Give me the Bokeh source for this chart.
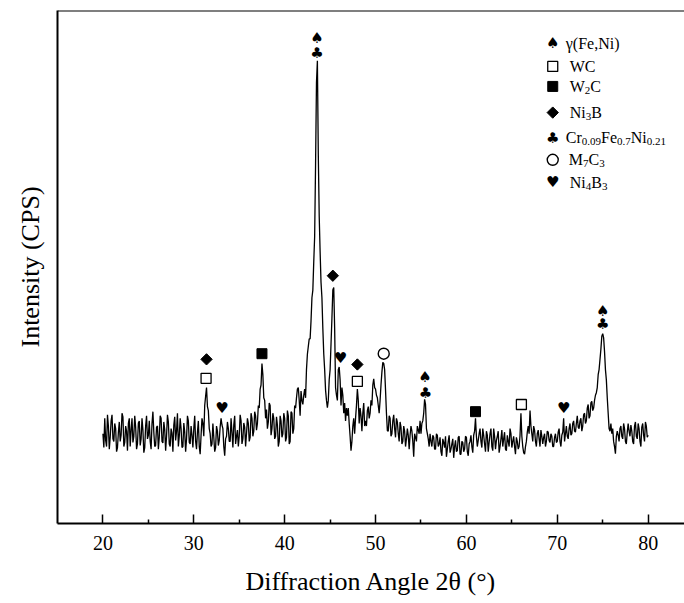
import numpy as np
from bokeh.plotting import figure
from bokeh.models import Range1d, FixedTicker, Span, Label
from bokeh.core.properties import value
from bokeh.embed import file_html
from bokeh.resources import INLINE

# ---------------- data ----------------
angle_start, angle_end = 20.0, 80.0
intensity = [
    175, 148, 205, 162, 150, 212, 190, 145, 168, 200,   # 20
    212, 165, 160, 195, 185, 140, 148, 178, 198, 160,   # 21
    172, 215, 208, 150, 158, 190, 180, 142, 195, 205,   # 22
    150, 182, 205, 158, 170, 210, 188, 145, 155, 196,   # 23
    200, 152, 165, 205, 182, 138, 148, 190, 210, 165,   # 24
    172, 200, 160, 145, 195, 218, 178, 150, 152, 188,   # 25
    190, 145, 168, 210, 205, 160, 157, 198, 183, 142,   # 26
    170, 212, 198, 155, 150, 185, 176, 140, 192, 208,   # 27
    162, 180, 215, 150, 170, 205, 185, 148, 150, 196,   # 28
    178, 140, 165, 210, 200, 158, 155, 190, 172, 148,   # 29
    185, 210, 160, 145, 178, 200, 150, 135, 172, 205,   # 30
    195, 170, 230, 248, 265, 228, 220, 185, 175, 150,   # 31
    155, 195, 168, 140, 148, 190, 180, 152, 162, 188,   # 32
    205, 192, 185, 150, 132, 165, 170, 198, 185, 160,   # 33
    160, 205, 178, 148, 192, 210, 155, 170, 182, 150,   # 34
    170, 212, 200, 155, 165, 196, 188, 150, 175, 205,   # 35
    195, 160, 168, 215, 205, 170, 180, 218, 210, 182,   # 36
    195, 230, 225, 262, 270, 312, 290, 245, 240, 205,   # 37
    222, 185, 198, 235, 230, 172, 185, 215, 205, 165,   # 38
    170, 208, 192, 150, 160, 210, 200, 168, 175, 215,   # 39
    205, 160, 168, 220, 210, 155, 160, 218, 215, 175,   # 40
    185, 230, 225, 245, 262, 265, 240, 210, 258, 240,   # 41
    232, 250, 262, 245, 300, 330, 345, 360, 360, 395,   # 42
    440, 455, 510, 560, 700, 860, 902, 720, 600, 530,   # 43
    470, 440, 380, 331, 300, 260, 240, 226, 240, 280,   # 44
    300, 350, 400, 455, 460, 380, 265, 250, 240, 300,   # 45
    305, 280, 230, 265, 250, 215, 235, 200, 225, 210,   # 46
    225, 195, 170, 142, 160, 190, 205, 175, 205, 230,   # 47
    262, 240, 195, 225, 210, 180, 215, 235, 190, 200,   # 48
    190, 220, 228, 205, 215, 240, 230, 270, 282, 265,   # 49
    262, 250, 245, 230, 215, 240, 270, 295, 314, 312,   # 50
    300, 260, 215, 181, 180, 210, 205, 170, 175, 200,   # 51
    212, 185, 168, 205, 198, 175, 160, 198, 188, 155,   # 52
    160, 190, 180, 150, 165, 185, 172, 145, 172, 190,   # 53
    180, 160, 130, 175, 168, 160, 190, 182, 175, 200,   # 54
    175, 195, 200, 215, 242, 232, 185, 175, 165, 150,   # 55
    175, 160, 150, 172, 168, 145, 145, 175, 172, 150,   # 56
    155, 168, 140, 132, 165, 158, 148, 170, 130, 145,   # 57
    160, 172, 138, 145, 155, 165, 128, 150, 162, 140,   # 58
    142, 168, 170, 135, 135, 160, 158, 140, 145, 170,   # 59
    168, 140, 132, 155, 160, 172, 150, 138, 172, 180,   # 60
    205, 170, 150, 162, 175, 185, 160, 148, 185, 172,   # 61
    155, 140, 180, 172, 140, 158, 175, 185, 150, 142,   # 62
    185, 170, 145, 162, 170, 180, 138, 150, 165, 182,   # 63
    150, 165, 178, 145, 142, 172, 160, 150, 185, 175,   # 64
    148, 160, 170, 150, 135, 168, 160, 145, 150, 172,   # 65
    215, 170, 150, 138, 135, 150, 160, 178, 190, 175,   # 66
    220, 190, 175, 160, 190, 182, 160, 150, 175, 182,   # 67
    165, 150, 182, 170, 155, 168, 175, 150, 160, 180,   # 68
    178, 162, 158, 175, 170, 150, 150, 168, 175, 158,   # 69
    160, 178, 185, 160, 150, 172, 178, 205, 160, 175,   # 70
    190, 170, 165, 185, 195, 172, 175, 195, 200, 180,   # 71
    178, 195, 210, 188, 185, 200, 205, 180, 190, 212,   # 72
    215, 195, 200, 225, 232, 205, 210, 235, 238, 220,   # 73
    225, 240, 250, 255, 265, 290, 300, 320, 340, 365,   # 74
    370, 362, 335, 300, 280, 245, 215, 185, 180, 195,   # 75
    175, 185, 160, 150, 136, 170, 180, 172, 160, 185,   # 76
    190, 170, 165, 195, 185, 160, 155, 178, 195, 180,   # 77
    170, 192, 180, 160, 155, 190, 198, 170, 165, 195,   # 78
    185, 160, 150, 188, 195, 172, 160, 198, 190, 168,   # 79
    172,
]
two_theta = np.linspace(angle_start, angle_end, len(intensity))

# peak identification markers (2θ, label height)
spade_x = [43.55, 55.45, 75.0]
spade_y = [947, 285, 415]
club_x = [43.55, 55.5, 75.0]
club_y = [918, 255, 388]
heart_x = [33.1, 46.15, 70.7]
heart_y = [226, 322, 226]
diamond_x = [31.4, 45.3, 48.0]
diamond_y = [320, 483, 310]
wc_x = [31.35, 48.0, 66.05]
wc_y = [283, 277, 232]
w2c_x = [37.5, 61.0]
w2c_y = [331, 218]
m7c3_x = [50.9]
m7c3_y = [331]

x_ticks = [20, 30, 40, 50, 60, 70, 80]
x_minor = [25, 35, 45, 55, 65, 75]

# legend
legend_kinds = ["spade", "wc", "w2c", "diamond", "club", "m7c3", "heart"]
legend_rows = [
    [("γ(Fe,Ni)", 0)],
    [("WC", 0)],
    [("W", 0), ("2", 1), ("C", 0)],
    [("Ni", 0), ("3", 1), ("B", 0)],
    [("Cr", 0), ("0.09", 1), ("Fe", 0), ("0.7", 1), ("Ni", 0), ("0.21", 1)],
    [("M", 0), ("7", 1), ("C", 0), ("3", 1)],
    [("Ni", 0), ("4", 1), ("B", 0), ("3", 1)],
]
legend_x = 69.5
legend_y = [936, 891, 852, 801, 752, 709, 665]
legend_text_start = [13, 17, 17, 17, 13, 16, 17]

# ---------------- figure ----------------
SERIF = "Liberation Serif"
p = figure(width=684, height=603, x_range=Range1d(15, 84), y_range=Range1d(0, 1000),
           output_backend="svg", toolbar_location=None,
           min_border_left=57, min_border_right=0, min_border_top=10, min_border_bottom=80)
p.outline_line_color = None
p.xgrid.visible = False
p.ygrid.visible = False
p.background_fill_color = "white"
p.border_fill_color = "white"

xa = p.xaxis[0]
xa.ticker = FixedTicker(ticks=x_ticks, minor_ticks=x_minor)
xa.major_tick_in = 9
xa.major_tick_out = 0
xa.minor_tick_in = 4
xa.minor_tick_out = 0
xa.axis_line_width = 2
xa.major_tick_line_width = 1.5
xa.minor_tick_line_width = 1.5
xa.major_label_text_font = SERIF
xa.major_label_text_font_size = "20px"
xa.major_label_text_color = "black"
xa.major_label_standoff = 12
xa.axis_label = "Diffraction Angle 2θ (°)"
xa.axis_label_text_font = SERIF
xa.axis_label_text_font_size = "26px"
xa.axis_label_text_font_style = "normal"
xa.axis_label_text_color = "black"
xa.axis_label_standoff = 14

ya = p.yaxis[0]
ya.ticker = FixedTicker(ticks=[])
ya.major_label_text_font_size = "0px"
ya.major_tick_in = 0
ya.major_tick_out = 0
ya.minor_tick_in = 0
ya.minor_tick_out = 0
ya.axis_line_width = 2
ya.axis_label = "Intensity (CPS)"
ya.axis_label_text_font = SERIF
ya.axis_label_text_font_size = "26px"
ya.axis_label_text_font_style = "normal"
ya.axis_label_text_color = "black"
ya.axis_label_standoff = 13

p.add_layout(Span(location=1000, dimension="width", line_color="black", line_width=2))

p.line(two_theta, intensity, line_color="black", line_width=1.3)

SYM_FONT = value("DejaVu Sans")


def draw_kind(kind, xs, ys):
    if kind in ("spade", "club", "heart"):
        ch = {"spade": "♠", "club": "♣", "heart": "♥"}[kind]
        p.text(xs, ys, text=[ch] * len(xs), text_font=SYM_FONT, text_font_size="15px",
               text_align="center", text_baseline="middle", text_color="black")
    elif kind == "diamond":
        p.scatter(xs, ys, marker="square", size=8, angle=np.pi / 4,
                  fill_color="black", line_color="black")
    elif kind == "wc":
        p.scatter(xs, ys, marker="square", size=10, fill_color="white",
                  line_color="black", line_width=1.3)
    elif kind == "w2c":
        p.scatter(xs, ys, marker="square", size=10, fill_color="black", line_color="black")
    elif kind == "m7c3":
        p.scatter(xs, ys, marker="circle", size=11, fill_color="white",
                  line_color="black", line_width=1.4)


draw_kind("spade", spade_x, spade_y)
draw_kind("club", club_x, club_y)
draw_kind("heart", heart_x, heart_y)
draw_kind("diamond", diamond_x, diamond_y)
draw_kind("wc", wc_x, wc_y)
draw_kind("w2c", w2c_x, w2c_y)
draw_kind("m7c3", m7c3_x, m7c3_y)

# legend
metrics = {"W": .944, "C": .667, "N": .722, "i": .278, "B": .667, "M": .889,
           "F": .556, "e": .444, "r": .333, ".": .25}
MAIN, SUB = 16, 11


def text_width(s, size):
    return sum(metrics.get(c, .5) for c in s) * size


for kind, ly, pieces, start in zip(legend_kinds, legend_y, legend_rows, legend_text_start):
    draw_kind(kind, [legend_x], [ly])
    off = start
    for txt, sub in pieces:
        size = SUB if sub else MAIN
        p.add_layout(Label(x=legend_x, y=ly, x_offset=off, y_offset=-4 if sub else 0,
                           text=txt, text_font=SERIF, text_font_size=f"{size}px",
                           text_baseline="middle", text_align="left", text_color="black"))
        off += text_width(txt, size)

open("out.html", "w").write(file_html(p, INLINE))
